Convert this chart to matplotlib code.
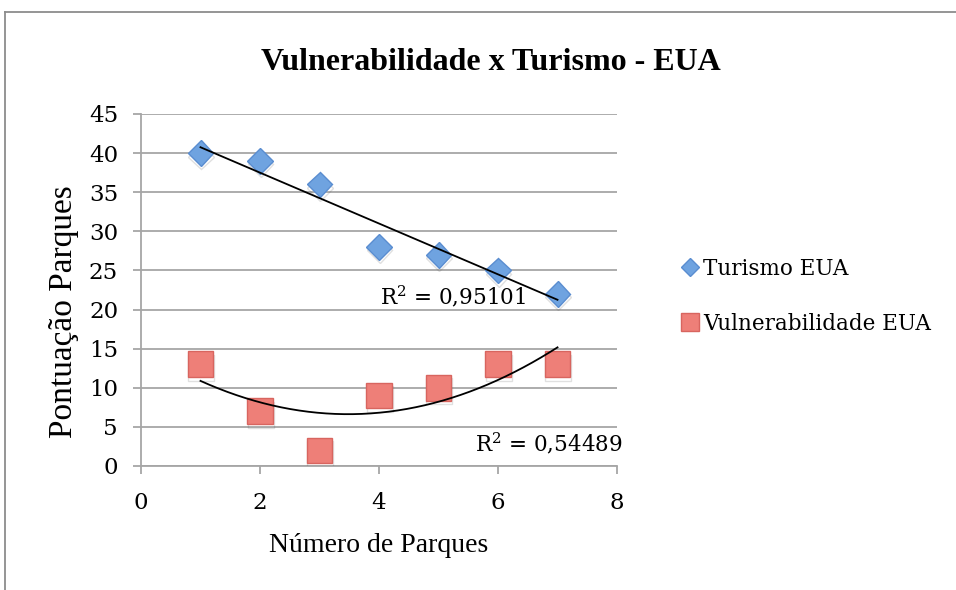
import numpy as np
import matplotlib
matplotlib.use("Agg")
import matplotlib.pyplot as plt
import matplotlib.patheffects as pe
from matplotlib.lines import Line2D

plt.rcParams["mathtext.fontset"] = "dejavuserif"

# Data
parques = [1, 2, 3, 4, 5, 6, 7]
turismo = [40, 39, 36, 28, 27, 25, 22]
vulnerabilidade = [13, 7, 2, 9, 10, 13, 13]
r2_turismo = "R$^{2}$ = 0,95101"
r2_vuln = "R$^{2}$ = 0,54489"
title = "Vulnerabilidade x Turismo - EUA"
xlabel = "Número de Parques"
ylabel = "Pontuação Parques"
labels = ["Turismo EUA", "Vulnerabilidade EUA"]

W, H = 956, 590
fig = plt.figure(figsize=(W / 100, H / 100), dpi=100)
ax = fig.add_axes([141 / W, 1 - 466 / H, (617 - 141) / W, (466 - 114) / H])

grid_c = "#a6a6a6"
ax.set_xlim(0, 8)
ax.set_ylim(0, 45)
ax.set_xticks(range(0, 9, 2))
ax.set_yticks(range(0, 46, 5))
ax.yaxis.grid(True, color=grid_c, lw=1.3)
ax.set_axisbelow(True)
for s in ["top", "right"]:
    ax.spines[s].set_visible(False)
for s in ["left", "bottom"]:
    ax.spines[s].set_color(grid_c)
    ax.spines[s].set_linewidth(1.3)
ax.tick_params(axis="both", direction="out", color=grid_c, width=1.3, length=5.5,
               labelsize=16.5)
ax.tick_params(axis="x", pad=13)
ax.tick_params(axis="y", pad=11)
for lab in ax.get_xticklabels() + ax.get_yticklabels():
    lab.set_family("DejaVu Serif")

shadow = [pe.SimpleLineShadow(offset=(0.5, -2.5), shadow_color="#555555", alpha=0.18), pe.Normal()]

blue_face, blue_edge = "#6fa3e0", "#5a8dd0"
red_face, red_edge = "#ee7f78", "#d8655f"

ax.plot(parques, turismo, ls="none", marker="D", ms=13, mfc=blue_face, mec=blue_edge,
        mew=1.0, zorder=3, path_effects=shadow)
ax.plot(parques, vulnerabilidade, ls="none", marker="s", ms=18.5, mfc=red_face, mec=red_edge,
        mew=1.0, zorder=3, path_effects=shadow)

# trendlines
xs = np.linspace(min(parques), max(parques), 200)
c1 = np.polyfit(parques, turismo, 1)
c2 = np.polyfit(parques, vulnerabilidade, 2)
ax.plot(xs, np.polyval(c1, xs), color="black", lw=1.3, zorder=4)
ax.plot(xs, np.polyval(c2, xs), color="black", lw=1.3, zorder=4)

ax.text(4.02, 21.6, r2_turismo, fontsize=15.5, family="DejaVu Serif", va="center", ha="left", zorder=5)
ax.text(5.61, 2.9, r2_vuln, fontsize=15.5, family="DejaVu Serif", va="center", ha="left", zorder=5)

fig.text(0.513, 1 - 62 / H, title, fontsize=23, fontweight="bold", family="Liberation Serif",
         ha="center", va="center")
fig.text(379 / W, 1 - 545 / H, xlabel, fontsize=20, family="Liberation Serif", ha="center", va="center")
fig.text(64 / W, 1 - 312 / H, ylabel, fontsize=24, family="Liberation Serif", ha="center",
         va="center", rotation=90)

handles = [
    Line2D([], [], ls="none", marker="D", ms=9, mfc=blue_face, mec=blue_edge),
    Line2D([], [], ls="none", marker="s", ms=13, mfc=red_face, mec=red_edge),
]
fig.legend(handles, labels, loc="upper left", bbox_to_anchor=(672 / W, 1 - 249 / H),
           frameon=False, prop={"family": "DejaVu Serif", "size": 15.5},
           handlelength=0.9, handletextpad=0.15, labelspacing=1.55, borderaxespad=0)

# chart border (clipped on right and bottom)
fig.add_artist(Line2D([4.5 / W, 4.5 / W], [0, 1 - 11.5 / H], color="#8c8c8c", lw=1.3,
                      transform=fig.transFigure))
fig.add_artist(Line2D([4.5 / W, 1], [1 - 11.5 / H, 1 - 11.5 / H], color="#8c8c8c", lw=1.3,
                      transform=fig.transFigure))

fig.savefig("out.png", dpi=100)
